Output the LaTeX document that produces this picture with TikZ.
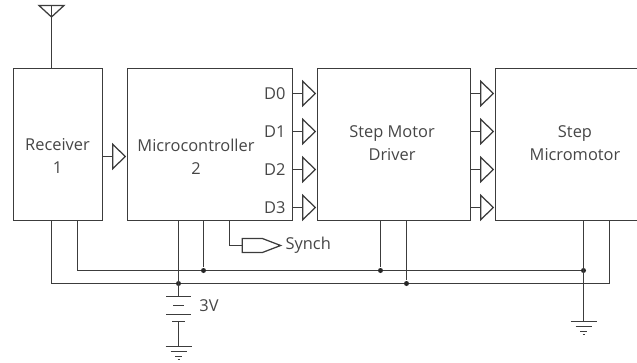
\documentclass[tikz,border=0pt]{standalone}
\usepackage{fontspec}
\setmainfont{Open Sans}
\usepackage{tikz}
\definecolor{wire}{RGB}{60,60,60}
\definecolor{label}{RGB}{70,70,70}
\usetikzlibrary{shapes.geometric,shapes.symbols}
\tikzset{
	block/.style={draw=wire, minimum height=152pt, inner sep=0pt, align=center, text=label},
	buffer/.style={draw=wire, isosceles triangle, isosceles triangle stretches, minimum width=24.5pt, minimum height=12.5pt, inner sep=0pt, anchor=apex},
	pinlabel/.style={text=label, inner sep=0pt},
	dot/.style={circle, fill=black!85, minimum size=5pt, inner sep=0pt},
	gnd/.pic={
		\draw (-13,0) -- (13,0);
		\draw (-8,5) -- (8,5);
		\draw (-3.5,10) -- (3.5,10);
		\draw (-1,13) -- (1,13);
	}
}
\begin{document}
\begin{tikzpicture}[x=1pt, y=-1pt, font=\fontsize{16.4}{19}\selectfont, color=wire, line width=1.25pt]
	\clip (0,0) rectangle (637,362);
	\useasboundingbox (0,0) rectangle (637,362);
	% Bloecke
	\node[block, minimum width=89pt] (receiver) at (58,144.5) {};
	\node[block, minimum width=165pt] (micro) at (210,144.5) {};
	\node[block, minimum width=153pt] (driver) at (394,144.5) {};
	\node[block, minimum width=160pt] (motor) at (575.5,144.5) {};
	\node[text=label, align=center, inner sep=0pt] (rxtext) at (57.5,156) {Receiver\\[4pt]1};
	\node[text=label, align=center, inner sep=0pt] (microtext) at (196,156.5) {Microcontroller\\[4pt]2};
	\node[text=label, align=center, inner sep=0pt] (drivertext) at (392,143.5) {Step Motor\\[4pt]Driver};
	\node[text=label, align=center, inner sep=0pt] (motortext) at (575,143.5) {Step\\[4pt]Micromotor};
	% Antenne
	\coordinate (anttop) at (51.5,5.5);
	\coordinate (antfoot) at (51.5,17);
	\draw (receiver.north -| antfoot) -- (anttop);
	\draw (39,5.5) -- (64,5.5) -- (antfoot) -- cycle;
	% Puffer zwischen den Bloecken
	\node[buffer] (rxbuf) at (micro.west |- 0,156.5) {};
	\draw (rxbuf.west) -- (rxbuf.west -| receiver.east);
	\foreach \i/\y in {0/93.5,1/131.5,2/169.5,3/207.5} {
		\node[buffer] (dbuf\i) at (driver.west |- 0,\y) {};
		\draw (dbuf\i.west) -- (dbuf\i.west -| micro.east);
		\node[pinlabel, anchor=east] (dlabel\i) at (286,\y) {D\i};
		\node[buffer] (mbuf\i) at (motor.west |- 0,\y) {};
		\draw (mbuf\i.west) -- (mbuf\i.west -| driver.east);
	}
	% Synch
	\node[draw=wire, signal, signal to=east, signal pointer angle=42, minimum width=38.5pt, minimum height=14pt, inner sep=0pt, anchor=west] (synch) at (241.5,245.5) {};
	\node[text=label, anchor=west, inner sep=0pt] (synchtext) at (285,245) {Synch};
	\coordinate (synchtop) at (229.5,220);
	\draw (micro.south -| synchtop) |- (synch.west);
	% Versorgungsleitungen
	\coordinate (railatop) at (77.5,270.5);
	\coordinate (railbtop) at (51.5,283.5);
	\coordinate (railaend) at (583.5,270.5);
	\coordinate (railbend) at (609.5,283.5);
	\draw (receiver.south -| railatop) -- (railatop) -- (railaend);
	\draw (receiver.south -| railbtop) -- (railbtop) -- (railbend) -- (motor.south -| railbend);
	\node[dot] (microa) at (203.5,270.5) {};
	\node[dot] (microb) at (178.5,283.5) {};
	\node[dot] (drivera) at (380.5,270.5) {};
	\node[dot] (driverb) at (406.5,283.5) {};
	\node[dot] (motora) at (583.5,270.5) {};
	\draw (micro.south -| microa) -- (microa);
	\draw (driver.south -| drivera) -- (drivera);
	\draw (driver.south -| driverb) -- (driverb);
	% Batterie
	\coordinate (batplus) at (178.5,296.5);
	\coordinate (batminus) at (178.5,321.5);
	\coordinate (gndleft) at (178.5,346.5);
	\coordinate (gndright) at (583.5,321.5);
	\draw (micro.south -| microb) -- (batplus);
	\draw (166,296.5) -- (191,296.5);
	\draw (173,305.5) -- (184,305.5);
	\draw (166,314.5) -- (191,314.5);
	\draw (172,321.5) -- (185,321.5);
	\draw (batminus) -- (gndleft);
	\node[text=label, inner sep=0pt] (batlabel) at (209,306) {3V};
	% Masse
	\draw (motor.south -| motora) -- (gndright);
	\path (gndleft) pic {gnd};
	\path (gndright) pic {gnd};
\end{tikzpicture}
\end{document}
